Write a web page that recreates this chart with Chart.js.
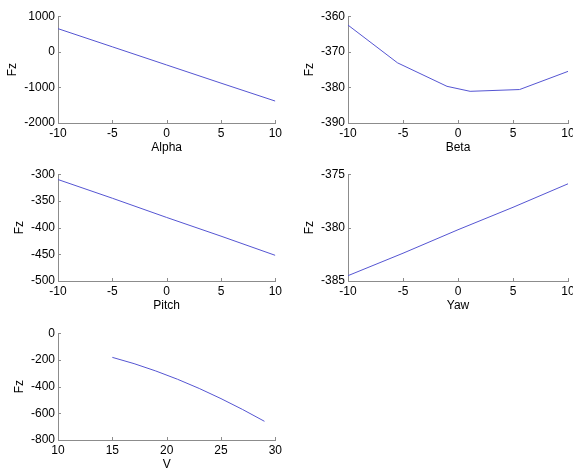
<!DOCTYPE html>
<html>
<head>
<meta charset="utf-8">
<script src="https://cdn.jsdelivr.net/npm/chart.js@4.4.1/dist/chart.umd.min.js"></script>
<style>
  html, body { margin: 0; padding: 0; background: #fff; }
  body { width: 573px; height: 473px; overflow: hidden; position: relative; }
  canvas { position: absolute; }
</style>
</head>
<body>
<canvas id="alpha"></canvas>
<canvas id="beta"></canvas>
<canvas id="pitch"></canvas>
<canvas id="yaw"></canvas>
<canvas id="speed"></canvas>
<script>
// data
const alphaX = [-10, -5, 0, 5, 10];
const alphaFz = [650, 140, -370, -880, -1385];

const betaX = [-10, -5.5, -1, 1.1, 5.6, 10];
const betaFz = [-362.5, -373.1, -379.7, -381.1, -380.6, -375.5];

const pitchX = [-10, -5, 0, 5, 10];
const pitchFz = [-310, -345, -381, -416, -452];

const yawX = [-10, -5, 0, 5, 10];
const yawFz = [-384.5, -382.4, -380.2, -378.1, -375.9];

const vX = [15, 17, 19, 21, 23, 25, 27, 29];
const vFz = [-181, -228, -283, -345, -414, -490, -572, -660];

// axis ranges / tick steps
const angleTicks = [-10, 10, 5];
const speedTicks = [10, 30, 5];
const alphaTicks = [-2000, 1000, 1000];
const betaTicks = [-390, -360, 10];
const pitchTicks = [-500, -300, 50];
const yawTicks = [-385, -375, 5];
const vTicks = [-800, 0, 200];

const AXIS_GREY = '#8c8c8c';
const LINE_BLUE = '#5555d2';

Chart.defaults.font.family = '"Liberation Sans", Arial, sans-serif';
Chart.defaults.font.size = 12;
Chart.defaults.color = '#000';

// matlab style ticks, pointing into the plot
const innerTicks = {
  id: 'innerTicks',
  afterDraw(chart) {
    const { ctx, chartArea: a, scales: { x, y } } = chart;
    ctx.save();
    ctx.strokeStyle = AXIS_GREY;
    ctx.lineWidth = 1;
    ctx.beginPath();
    x.ticks.forEach(t => {
      const px = Math.round(x.getPixelForValue(t.value)) + 0.5;
      ctx.moveTo(px, a.bottom);
      ctx.lineTo(px, a.bottom - 3);
    });
    y.ticks.forEach(t => {
      const py = Math.round(y.getPixelForValue(t.value)) + 0.5;
      ctx.moveTo(a.left, py);
      ctx.lineTo(a.left + 3, py);
    });
    ctx.stroke();
    ctx.restore();
  }
};

const plain = v => String(v);

function makePlot(id, box, xs, ys, xr, yr, xTitle, fzPad) {
  const cv = document.getElementById(id);
  const padRight = box.col === 0 ? 7 : 12;
  cv.width = (box.r - box.l) + 58 + padRight;
  cv.height = 10 + (box.b - box.t) + 40;
  cv.style.left = (box.l - 58) + 'px';
  cv.style.top = (box.t - 10) + 'px';

  return new Chart(cv, {
    type: 'line',
    data: {
      datasets: [{
        data: xs.map((v, i) => ({ x: v, y: ys[i] })),
        borderColor: LINE_BLUE,
        borderWidth: 1,
        pointRadius: 0,
        tension: 0,
        fill: false,
      }],
    },
    options: {
      responsive: false,
      animation: false,
      layout: { padding: { top: 10, right: padRight, left: 0, bottom: 0 } },
      plugins: { legend: { display: false }, tooltip: { enabled: false } },
      scales: {
        x: {
          type: 'linear',
          min: xr[0], max: xr[1],
          ticks: { stepSize: xr[2], padding: 3, maxRotation: 0, callback: plain },
          grid: { display: false, drawTicks: false },
          border: { display: true, color: AXIS_GREY },
          title: { display: true, text: xTitle, padding: { top: 0, bottom: 8 } },
          afterFit: s => { s.height = 40; },
        },
        y: {
          min: yr[0], max: yr[1],
          ticks: { stepSize: yr[2], padding: 3, callback: plain },
          grid: { display: false, drawTicks: false },
          border: { display: true, color: AXIS_GREY },
          title: { display: true, text: 'Fz', padding: { top: fzPad, bottom: 0 } },
          afterFit: s => { s.width = 58; },
        },
      },
    },
    plugins: [innerTicks],
  });
}

makePlot('alpha', { l: 58, r: 278, t: 16, b: 123, col: 0 }, alphaX, alphaFz, angleTicks, alphaTicks, 'Alpha', 5);
makePlot('beta', { l: 348, r: 568, t: 16, b: 123, col: 1 }, betaX, betaFz, angleTicks, betaTicks, 'Beta', 12);
makePlot('pitch', { l: 58, r: 278, t: 174, b: 281, col: 0 }, pitchX, pitchFz, angleTicks, pitchTicks, 'Pitch', 12);
makePlot('yaw', { l: 348, r: 568, t: 174, b: 281, col: 1 }, yawX, yawFz, angleTicks, yawTicks, 'Yaw', 12);
makePlot('speed', { l: 58, r: 278, t: 333, b: 440, col: 0 }, vX, vFz, speedTicks, vTicks, 'V', 12);
</script>
</body>
</html>
